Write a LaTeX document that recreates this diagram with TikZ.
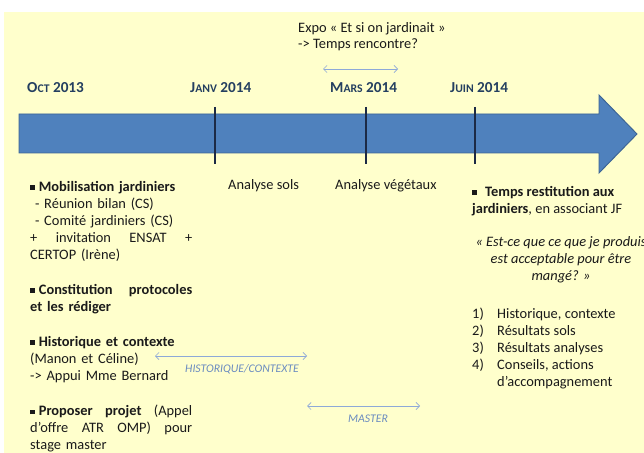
\documentclass[tikz,border=0pt]{standalone}
\usepackage{fontspec}
\setmainfont{Carlito}
\usepackage{tikz}
\usetikzlibrary{positioning, arrows.meta}
\definecolor{paleyellow}{HTML}{FFFFCC}
\definecolor{arrowblue}{HTML}{4F81BD}
\definecolor{arrowedge}{HTML}{3C6494}
\definecolor{tickblue}{HTML}{1C2A45}
\definecolor{datenavy}{HTML}{243F60}
\definecolor{spanblue}{HTML}{8EA9D8}
\definecolor{spantext}{HTML}{6A8BC0}
\definecolor{inkgrey}{HTML}{1A1A1A}
\newcommand{\pxfont}[2]{\fontsize{#1}{#2}\selectfont}
\newcommand{\datelabel}[3]{#1{\pxfont{10}{12}#2}~#3}
\newcommand{\sqbullet}{\raisebox{0.25ex}{\rule{0.3em}{0.3em}}\hspace{0.3em}}
\newcommand{\fullline}[1]{\leavevmode\hbox to 4.86cm{\spaceskip=0.3em plus 1fil\relax #1}}

\begin{document}
\begin{tikzpicture}[x=0.03cm, y=-0.03cm, font=\pxfont{12.3}{14.5}, text=inkgrey,
    date/.style={font=\pxfont{13}{15}\bfseries, text=datenavy, anchor=west, inner sep=0pt},
    tick/.style={line width=1.2pt, tickblue},
    block/.style={anchor=north west, align=left, inner sep=0pt, text width=4.86cm},
    plain/.style={anchor=north west, inner sep=0pt},
    span/.style={spanblue, line width=0.6pt, {Straight Barb[length=3pt, width=6pt]}-{Straight Barb[length=3pt, width=6pt]}},
    spanlabel/.style={font=\pxfont{10}{12}\itshape, text=spantext, inner sep=0pt}]
    \clip (0,0) rectangle (644,453);
    \fill[white] (0,0) rectangle (644,453);
    \fill[paleyellow] (4,12) rectangle (644,453);

    % timeline
    \draw[arrowedge, fill=arrowblue, line width=0.8pt]
        (19,114) -- (599,114) -- (599,95) -- (637,134) -- (599,173) -- (599,153) -- (19,153) -- cycle;
    \coordinate (janvtop) at (215,107);  \coordinate (janvbot) at (215,164);
    \coordinate (marstop) at (366,107);  \coordinate (marsbot) at (366,164);
    \coordinate (juintop) at (475,107);  \coordinate (juinbot) at (475,164);
    \draw[tick] (janvtop) -- (janvbot);
    \draw[tick] (marstop) -- (marsbot);
    \draw[tick] (juintop) -- (juinbot);

    \node[date] (oct) at (27,88) {\datelabel{O}{CT}{2013}};
    \node[date] (janv) at (190,88) {\datelabel{J}{ANV}{2014}};
    \node[date] (mars) at (330,88) {\datelabel{M}{ARS}{2014}};
    \node[date] (juin) at (450,88) {\datelabel{J}{UIN}{2014}};

    % expo
    \node[plain, align=left, font=\pxfont{12.3}{13.6}] (expo) at (298,22)
        {Expo « Et si on jardinait »\\-> Temps rencontre?};
    \coordinate (expoL) at (323,69);
    \coordinate (expoR) at (398,69);
    \draw[span] (expoL) -- (expoR);

    % actions
    \node[block] (mobil) at (30,181) {\textbf{\sqbullet Mobilisation jardiniers}\\
        \ - Réunion bilan (CS)\\
        \ - Comité jardiniers (CS)\\
        \fullline{+ invitation ENSAT +}\\
        CERTOP (Irène)};
    \node[block] (proto) at (30,284) {\fullline{\bfseries\sqbullet Constitution protocoles}\\
        \textbf{et les rédiger}};
    \node[block] (histo) at (30,336) {\textbf{\sqbullet Historique et contexte}\\
        (Manon et Céline)\\
        -> Appui Mme Bernard};
    \node[block] (projet) at (30,405) {\fullline{\textbf{\sqbullet Proposer projet} (Appel}\\
        \fullline{d’offre ATR OMP) pour}\\
        stage master};

    \node[plain] (sols) at (228,179) {Analyse sols};
    \node[plain] (vege) at (335,179) {Analyse végétaux};

    \node[plain, align=left] (restit) at (472,186)
        {\textbf{\sqbullet\hspace{0.3em}Temps restitution aux}\\\textbf{jardiniers}, en associant JF};
    \node[anchor=north, inner sep=0pt, align=center, font=\pxfont{12.3}{14.8}\itshape] (quest) at (561,236)
        {« Est-ce que ce que je produis\\est acceptable pour être\\mangé? »};
    \node[plain, align=left] (bilan) at (472,308)
        {\makebox[0.75cm][l]{1)}Historique, contexte\\
         \makebox[0.75cm][l]{2)}Résultats sols\\
         \makebox[0.75cm][l]{3)}Résultats analyses\\
         \makebox[0.75cm][l]{4)}Conseils, actions\\
         \hspace*{0.75cm}d’accompagnement};

    % periods
    \coordinate (histL) at (155,356);
    \coordinate (histR) at (307,356);
    \draw[span] (histL) -- (histR);
    \node[spanlabel] (histlab) at (242,369) {HISTORIQUE/CONTEXTE};
    \coordinate (mastL) at (307,406);
    \coordinate (mastR) at (420,406);
    \draw[span] (mastL) -- (mastR);
    \node[spanlabel] (mastlab) at (368,419) {MASTER};
\end{tikzpicture}
\end{document}
